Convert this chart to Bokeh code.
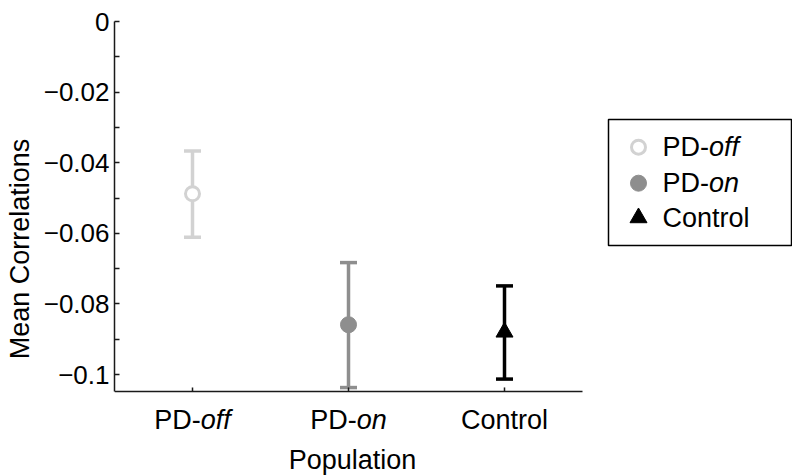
from bokeh.plotting import figure
from bokeh.models import Range1d, FixedTicker, Whisker, TeeHead, ColumnDataSource
from bokeh.core.properties import value
from bokeh.embed import file_html
from bokeh.resources import INLINE

# ---- data ----
categories = ["PD-off", "PD-on", "Control"]
label_plain = ["PD-", "PD-", "Control"]
label_italic = ["off", "on", ""]
x_pos = [1, 2, 3]
means = [-0.0488, -0.0859, -0.0880]
upper = [-0.0367, -0.0683, -0.0749]
lower = [-0.0611, -0.1037, -0.1013]
colors = ["#d2d2d2", "#8e8e8e", "#000000"]
markers = ["circle", "circle", "triangle"]
fills = ["white", "#8e8e8e", "#000000"]

y_ticks = [0, -0.02, -0.04, -0.06, -0.08, -0.1]
y_tick_labels = ["0", "\u22120.02", "\u22120.04", "\u22120.06", "\u22120.08", "\u22120.1"]
y_minor = [-0.01, -0.03, -0.05, -0.07, -0.09]

FONT = "Liberation Sans"
FS = 27
FS_Y = 26
AX = "#1a1a1a"

# axis extents (the plotted area) and frame geometry
XSTART, XAXIS_END = 0.5, 3.5
YTOP, YMIN = 0.0, -0.1048
FRAME_W, FRAME_H = 678, 455
KX = 156.0                    # px per x unit
KY = 3530.0                   # px per y unit
XEND = XSTART + FRAME_W / KX
YBOT = YTOP - FRAME_H / KY

def dx(px):
    return XSTART + px / KX

def dy(px):
    return YTOP - px / KY

p = figure(frame_width=FRAME_W, frame_height=FRAME_H,
           min_border_left=114, min_border_right=0, min_border_top=21, min_border_bottom=0,
           x_range=Range1d(XSTART, XEND), y_range=Range1d(YBOT, YTOP),
           x_axis_type=None,
           output_backend="svg", toolbar_location=None)
p.outline_line_color = None
p.xgrid.visible = False
p.ygrid.visible = False
p.background_fill_color = "white"
p.border_fill_color = "white"

# y axis
ya = p.yaxis[0]
ya.bounds = (YMIN, YTOP)
ya.ticker = FixedTicker(ticks=y_ticks, minor_ticks=y_minor)
ya.major_label_overrides = {t: l for t, l in zip(y_ticks, y_tick_labels)}
ya.major_tick_in = 5
ya.major_tick_out = 0
ya.minor_tick_in = 5
ya.minor_tick_out = 0
ya.major_label_text_font = FONT
ya.major_label_text_font_size = f"{FS_Y}px"
ya.major_label_text_color = "black"
ya.major_label_standoff = 5
ya.axis_label = "Mean Correlations"
ya.axis_label_text_font = FONT
ya.axis_label_text_font_size = "27px"
ya.axis_label_text_font_style = "normal"
ya.axis_label_text_color = "black"
ya.axis_label_standoff = 6
ya.axis_line_width = 1.5
ya.axis_line_color = AX
ya.major_tick_line_color = AX
ya.minor_tick_line_color = AX
ya.major_tick_line_width = 1.5
ya.minor_tick_line_width = 1.5

# x axis line and inward ticks
p.segment(x0=[XSTART], y0=[YMIN], x1=[XAXIS_END], y1=[YMIN], line_color=AX, line_width=1.5)
p.segment(x0=x_pos, y0=[YMIN] * len(x_pos), x1=x_pos, y1=[YMIN + 4 / KY] * len(x_pos),
          line_color=AX, line_width=1.5)

# x tick labels with italic parts
W_PDDASH = 1.722 * FS
W_SUFFIX = 1.112 * FS
for xi, plain, ital in zip(x_pos, label_plain, label_italic):
    if ital:
        join = -(W_PDDASH + W_SUFFIX) / 2 + W_PDDASH
        p.text(x=[xi], y=[YMIN], x_offset=join, y_offset=29, text=[plain],
               text_align="right", text_baseline="alphabetic",
               text_font=value(FONT), text_font_size=f"{FS}px", text_color="black")
        p.text(x=[xi], y=[YMIN], x_offset=join, y_offset=29, text=[ital],
               text_align="left", text_baseline="alphabetic",
               text_font=value(FONT), text_font_size=f"{FS}px", text_font_style="italic",
               text_color="black")
    else:
        p.text(x=[xi], y=[YMIN], y_offset=29, text=[plain],
               text_align="center", text_baseline="alphabetic",
               text_font=value(FONT), text_font_size=f"{FS}px", text_color="black")

p.text(x=[(XSTART + XAXIS_END) / 2], y=[YMIN], x_offset=4, y_offset=69, text=["Population"],
       text_align="center", text_baseline="alphabetic",
       text_font=value(FONT), text_font_size="27px", text_color="black")

def draw_marker(fig, x, y, c, mk, f):
    if mk == "circle" and f == "white":
        fig.scatter([x], [y], marker="circle", size=14, line_color=c, line_width=3, fill_color=f)
    elif mk == "circle":
        fig.scatter([x], [y], marker="circle", size=16, line_color=c, line_width=1, fill_color=f)
    else:
        fig.scatter([x], [y], marker="triangle", size=17, line_color=c, line_width=1, fill_color=f)

# error bars and markers
for xi, m, u, l, c, mk, f in zip(x_pos, means, upper, lower, colors, markers, fills):
    src = ColumnDataSource(dict(x=[xi], upper=[u], lower=[l]))
    w = Whisker(base="x", upper="upper", lower="lower", source=src,
                line_color=c, line_width=3.5,
                upper_head=TeeHead(size=17, line_color=c, line_width=3.5),
                lower_head=TeeHead(size=17, line_color=c, line_width=3.5))
    p.add_layout(w)
    draw_marker(p, xi, m, c, mk, f)

# ---- legend (outside the axes, right) ----
p.quad(left=[dx(494)], right=[dx(677)], top=[dy(98)], bottom=[dy(224)],
       fill_color="white", line_color="black", line_width=1.5)
row_px = [125.7, 161.7, 196.3]
for rpx, plain, ital, c, mk, f in zip(row_px, label_plain, label_italic, colors, markers, fills):
    yy = dy(rpx)
    draw_marker(p, dx(524), yy, c, mk, f)
    p.text(x=[dx(548)], y=[yy], text=[plain], text_font=value(FONT), text_font_size=f"{FS}px",
           text_baseline="middle", text_align="left", text_color="black")
    if ital:
        p.text(x=[dx(548)], y=[yy], x_offset=W_PDDASH, text=[ital], text_font=value(FONT),
               text_font_size=f"{FS}px", text_font_style="italic",
               text_baseline="middle", text_align="left", text_color="black")

open("out.html", "w").write(file_html(p, INLINE))
